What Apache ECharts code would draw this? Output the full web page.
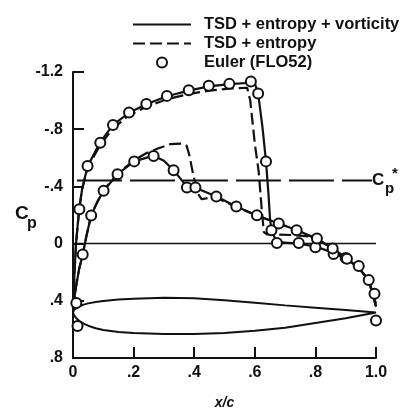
<!DOCTYPE html>
<html><head><meta charset="utf-8">
<script src="https://cdn.jsdelivr.net/npm/echarts@6/dist/echarts.min.js"></script>
<style>html,body{margin:0;padding:0;background:#fff}#c{width:403px;height:415px}</style>
</head><body><div id="c"></div>
<script>
// ---- data (x/c, Cp) ----
const vortUpper = [[0,0.45],[0.005,0.2],[0.01,0.0],[0.015,-0.12],[0.021,-0.25],[0.03,-0.38],[0.048,-0.54],[0.09,-0.71],[0.132,-0.83],[0.185,-0.915],[0.242,-0.975],[0.31,-1.03],[0.382,-1.07],[0.448,-1.1],[0.516,-1.115],[0.587,-1.125],[0.60,-1.12],[0.611,-1.05],[0.625,-0.82],[0.637,-0.575],[0.645,-0.35],[0.65,-0.18],[0.655,-0.09],[0.673,-0.01],[0.745,0.0],[0.80,0.02],[0.86,0.065],[0.905,0.11],[0.943,0.168],[0.976,0.257],[1.0,0.44]];
const vortLower = [[0,0.45],[0.01,0.3],[0.02,0.18],[0.032,0.077],[0.045,-0.06],[0.06,-0.197],[0.08,-0.29],[0.101,-0.369],[0.147,-0.485],[0.202,-0.575],[0.266,-0.615],[0.30,-0.58],[0.332,-0.513],[0.36,-0.44],[0.376,-0.395],[0.404,-0.39],[0.473,-0.33],[0.539,-0.259],[0.607,-0.197],[0.679,-0.14],[0.738,-0.095],[0.805,-0.033],[0.857,0.035],[0.904,0.106],[0.943,0.17],[0.976,0.257],[1.0,0.44]];
const entUpper = [[0,0.45],[0.005,0.2],[0.01,0.0],[0.015,-0.12],[0.021,-0.25],[0.03,-0.38],[0.048,-0.53],[0.09,-0.69],[0.13,-0.8],[0.18,-0.89],[0.24,-0.955],[0.31,-1.01],[0.38,-1.045],[0.45,-1.07],[0.52,-1.085],[0.575,-1.09],[0.585,-1.0],[0.60,-0.7],[0.613,-0.5],[0.624,-0.21],[0.63,-0.08],[0.64,-0.065],[0.72,-0.06],[0.78,-0.05],[0.805,-0.033],[0.857,0.035],[0.904,0.106],[0.943,0.17],[0.976,0.257],[1.0,0.42]];
const entLower = [[0,0.45],[0.01,0.3],[0.02,0.18],[0.032,0.077],[0.045,-0.06],[0.06,-0.2],[0.08,-0.29],[0.1,-0.37],[0.147,-0.49],[0.2,-0.58],[0.24,-0.63],[0.28,-0.665],[0.32,-0.695],[0.36,-0.70],[0.375,-0.685],[0.385,-0.61],[0.395,-0.5],[0.405,-0.41],[0.415,-0.34],[0.425,-0.31],[0.45,-0.32],[0.473,-0.32],[0.54,-0.255],[0.607,-0.197],[0.679,-0.14],[0.738,-0.095],[0.805,-0.033],[0.857,0.035],[0.904,0.106],[0.943,0.17],[0.976,0.257],[1.0,0.42]];
const eulerUpper = [[0.015,0.577],[0.021,-0.241],[0.048,-0.542],[0.09,-0.706],[0.132,-0.83],[0.185,-0.916],[0.242,-0.976],[0.31,-1.033],[0.382,-1.073],[0.448,-1.104],[0.516,-1.117],[0.587,-1.133],[0.611,-1.049],[0.637,-0.575],[0.655,-0.093],[0.673,-0.004],[0.745,-0.004],[0.80,0.025],[0.86,0.073],[0.90,0.1],[0.943,0.157],[0.976,0.255],[0.995,0.35],[1.0,0.538]];
const eulerLower = [[0.011,0.416],[0.032,0.077],[0.06,-0.197],[0.101,-0.369],[0.147,-0.485],[0.202,-0.575],[0.266,-0.613],[0.332,-0.513],[0.376,-0.392],[0.404,-0.392],[0.473,-0.33],[0.539,-0.259],[0.607,-0.199],[0.679,-0.14],[0.738,-0.094],[0.805,-0.035],[0.857,0.035],[0.904,0.106]];
const airfoilUpper = [[0,0.482],[0.004,0.462],[0.01,0.452],[0.02,0.44],[0.035,0.427],[0.05,0.418],[0.075,0.408],[0.1,0.401],[0.15,0.391],[0.2,0.385],[0.3,0.378],[0.4,0.382],[0.5,0.396],[0.6,0.414],[0.7,0.432],[0.8,0.448],[0.9,0.464],[1.0,0.482]];
const airfoilLower = [[1.0,0.482],[0.9,0.522],[0.8,0.555],[0.7,0.588],[0.6,0.61],[0.5,0.626],[0.4,0.633],[0.3,0.633],[0.2,0.626],[0.15,0.618],[0.1,0.604],[0.075,0.592],[0.05,0.574],[0.035,0.56],[0.02,0.54],[0.01,0.52],[0.004,0.503],[0,0.482]];
const cpStar = -0.442;
const cpStarRange = [0.013, 0.987];
const zeroLine = [[0,0],[1,0]];
const xTicks = [0,0.2,0.4,0.6,0.8,1.0];
const yTicks = [-1.2,-0.8,-0.4,0,0.4,0.8];

const N1 = 'TSD + entropy + vorticity', N2 = 'TSD + entropy', N3 = 'Euler (FLO52)';
function fmt(v){ const r = Math.round(v*10)/10; if (r === 0) return '0'; return r.toFixed(1).replace('0.', '.'); }
const FONT = 'Liberation Sans';
const lbl = {color:'#111', fontFamily:FONT, fontSize:16, fontWeight:'bold'};
const axisCommon = {
  axisLine:{onZero:false, lineStyle:{color:'#111', width:2}},
  axisTick:{inside:true, length:11, lineStyle:{color:'#111', width:2}},
  splitLine:{show:false}
};
const chart = echarts.init(document.getElementById('c'), null, {renderer:'canvas'});
const solid = {color:'#111', width:2.2};
const dashed = {color:'#111', width:2.2, type:[12,5]};
const circ = {color:'#fff', borderColor:'#111', borderWidth:2, opacity:1};
chart.setOption({
  animation:false,
  backgroundColor:'#fff',
  color:['#111'],
  grid:{left:73, right:27, top:72, bottom:42},
  legend:{
    data:[{name:N1, itemStyle:{opacity:0}}, {name:N2, itemStyle:{opacity:0}}, {name:N3}],
    orient:'vertical', left:127, top:11,
    itemWidth:58, itemHeight:10, itemGap:2,
    textStyle:{color:'#111', fontFamily:FONT, fontSize:16.5, fontWeight:'bold', padding:[0,0,0,8]}
  },
  xAxis:Object.assign({type:'value', min:xTicks[0], max:xTicks[xTicks.length-1], interval:0.2,
    axisLabel:Object.assign({formatter:fmt, margin:7}, lbl),
    name:'x/c', nameLocation:'middle', nameGap:38,
    nameTextStyle:{color:'#111', fontFamily:FONT, fontSize:14, fontStyle:'italic', fontWeight:'bold'}}, axisCommon),
  yAxis:Object.assign({type:'value', inverse:true, min:yTicks[0], max:yTicks[yTicks.length-1], interval:0.4,
    axisLabel:Object.assign({formatter:fmt, margin:10}, lbl)}, axisCommon),
  graphic:[
    {type:'text', left:15, top:204, style:{text:'C', font:'bold 19px "Liberation Sans"', fill:'#111'}},
    {type:'text', left:27, top:216, style:{text:'p', font:'bold 16px "Liberation Sans"', fill:'#111'}},
    {type:'text', left:372, top:172, style:{text:'C', font:'bold 17px "Liberation Sans"', fill:'#111'}},
    {type:'text', left:385, top:181, style:{text:'p', font:'bold 15px "Liberation Sans"', fill:'#111'}},
    {type:'text', left:392, top:166, style:{text:'*', font:'bold 15px "Liberation Sans"', fill:'#111'}}
  ],
  series:[
    {name:'zero', type:'line', data:zeroLine, symbol:'none', lineStyle:{color:'#111', width:1.5}, z:1},
    {name:'Cp*', type:'line', data:[[cpStarRange[0],cpStar],[cpStarRange[1],cpStar]], symbol:'none', lineStyle:{color:'#111', width:2, type:[45,8]}, z:1},
    {name:'airfoil', type:'line', data:airfoilUpper.concat(airfoilLower), symbol:'none', lineStyle:{color:'#111', width:2}, z:1},
    {name:N1, type:'line', data:vortUpper, symbol:'none', itemStyle:{color:'#111'}, lineStyle:solid, z:2},
    {name:N1, type:'line', data:vortLower, symbol:'none', itemStyle:{color:'#111'}, lineStyle:solid, z:2},
    {name:N2, type:'line', data:entUpper, symbol:'none', itemStyle:{color:'#111'}, lineStyle:dashed, z:2},
    {name:N2, type:'line', data:entLower, symbol:'none', itemStyle:{color:'#111'}, lineStyle:dashed, z:2},
    {name:N3, type:'scatter', data:eulerUpper, symbol:'circle', symbolSize:10, itemStyle:circ, z:3},
    {name:N3, type:'scatter', data:eulerLower, symbol:'circle', symbolSize:10, itemStyle:circ, z:3}
  ]
});
</script></body></html>
